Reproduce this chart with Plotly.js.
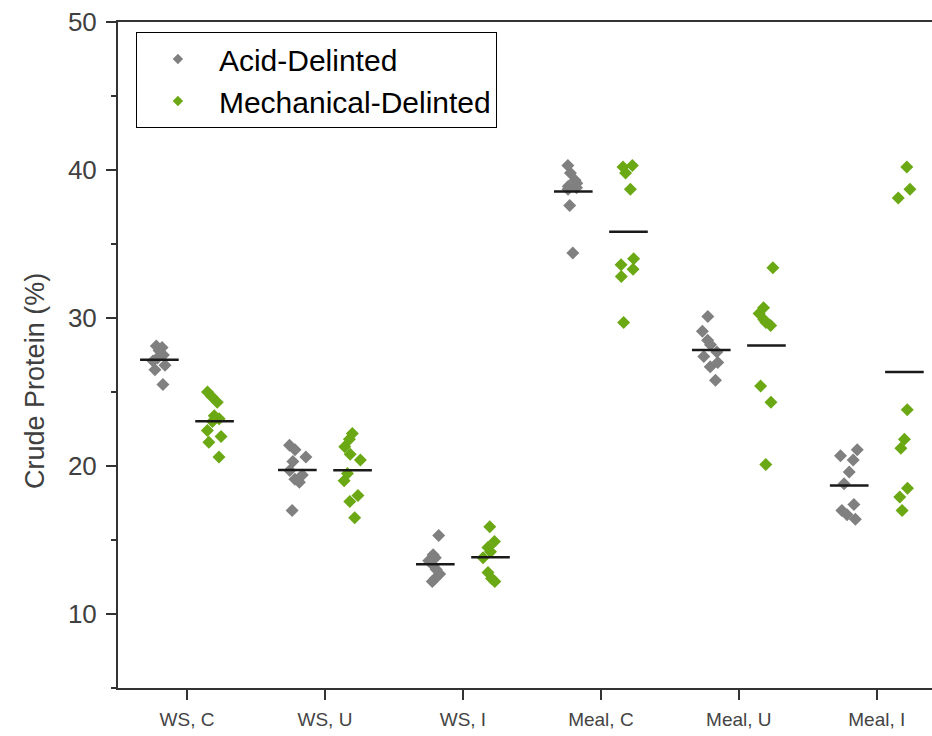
<!DOCTYPE html>
<html>
<head>
<meta charset="utf-8">
<script src="https://cdn.plot.ly/plotly-3.0.1.min.js"></script>
<style>html,body{margin:0;padding:0;background:#fff;}#chart{width:932px;height:736px;}</style>
</head>
<body>
<div id="chart"></div>
<script>
// ---- data ----
const categories = ["WS, C", "WS, U", "WS, I", "Meal, C", "Meal, U", "Meal, I"];
const seriesNames = ["Acid-Delinted", "Mechanical-Delinted"];
const yTickVals = [10, 20, 30, 40, 50];
const yTitle = "Crude Protein (%)";

const acidWSC   = [28.1, 28.0, 27.8, 27.5, 27.3, 27.1, 26.8, 26.5, 25.5];
const acidWSU   = [21.4, 21.1, 20.6, 20.3, 19.7, 19.4, 19.1, 18.9, 17.0];
const acidWSI   = [15.3, 14.0, 13.8, 13.6, 13.3, 13.0, 12.7, 12.4, 12.2];
const acidMealC = [40.3, 39.8, 39.3, 39.1, 38.9, 38.8, 38.7, 37.6, 34.4];
const acidMealU = [30.1, 29.1, 28.5, 28.2, 27.7, 27.4, 27.0, 26.7, 25.8];
const acidMealI = [21.1, 20.7, 20.4, 19.6, 18.8, 17.4, 17.0, 16.7, 16.4];

const mechWSC   = [25.0, 24.7, 24.3, 23.4, 23.2, 23.0, 22.4, 22.0, 21.6, 20.6];
const mechWSU   = [22.2, 21.8, 21.3, 20.8, 20.4, 19.5, 19.0, 18.0, 17.6, 16.5];
const mechWSI   = [15.9, 14.9, 14.5, 14.2, 13.8, 12.8, 12.4, 12.2];
const mechMealC = [40.3, 40.2, 39.8, 38.7, 34.0, 33.6, 33.3, 32.8, 29.7];
const mechMealU = [33.4, 30.7, 30.3, 29.9, 29.7, 29.5, 25.4, 24.3, 20.1];
const mechMealI = [40.2, 38.7, 38.1, 23.8, 21.8, 21.2, 18.5, 17.9, 17.0];

const acidGroups = [acidWSC, acidWSU, acidWSI, acidMealC, acidMealU, acidMealI];
const mechGroups = [mechWSC, mechWSU, mechWSI, mechMealC, mechMealU, mechMealI];

// ---- styling ----
const colors = ["#808080", "#6aa814"];
const offsets = [-0.2, 0.2];
const halfLine = 0.14;
const FONT = "Liberation Sans, Arial, sans-serif";

function pointsTrace(groups, k) {
  const xs = [], ys = [];
  groups.forEach((g, i) => g.forEach(v => { xs.push(i + offsets[k]); ys.push(v); }));
  return {
    type: "box", x: xs, y: ys, width: 0.28,
    boxpoints: "all", jitter: 0.5, pointpos: 0,
    fillcolor: "rgba(0,0,0,0)", line: {color: "rgba(0,0,0,0)", width: 0},
    whiskerwidth: 0,
    marker: {symbol: "diamond", size: 10, color: colors[k], line: {width: 0}},
    showlegend: false, hoverinfo: "y"
  };
}
function meanTrace(groups, k) {
  const xs = [], ys = [];
  groups.forEach((g, i) => {
    const m = g.reduce((a, b) => a + b, 0) / g.length;
    xs.push(i + offsets[k] - halfLine, i + offsets[k] + halfLine, null);
    ys.push(m, m, null);
  });
  return {type: "scatter", mode: "lines", x: xs, y: ys,
          line: {color: "#1a1a1a", width: 2.5}, showlegend: false, hoverinfo: "skip"};
}
function legendTrace(k) {
  return {type: "scatter", mode: "markers", x: [null], y: [null], name: seriesNames[k],
          marker: {symbol: "diamond", size: 8, color: colors[k]}};
}

const data = [
  pointsTrace(acidGroups, 0), pointsTrace(mechGroups, 1),
  meanTrace(acidGroups, 0), meanTrace(mechGroups, 1),
  legendTrace(0), legendTrace(1)
];

const layout = {
  width: 932, height: 736,
  margin: {l: 118, r: 0, t: 22, b: 48, pad: 0},
  paper_bgcolor: "#fff", plot_bgcolor: "#fff",
  boxmode: "overlay",
  showlegend: true,
  font: {family: FONT, color: "#333"},
  xaxis: {
    range: [-0.5, 5.4], tickmode: "array", tickvals: categories.map((c, i) => i), ticktext: categories,
    ticks: "outside", ticklen: 10, tickwidth: 2, tickcolor: "#333",
    showline: true, linecolor: "#333", linewidth: 2, mirror: true,
    showgrid: false, zeroline: false, ticklabelstandoff: 3,
    tickfont: {family: "Liberation Sans Narrow, " + FONT, size: 19, color: "#444"}
  },
  yaxis: {
    range: [5, 50], tickmode: "array", tickvals: yTickVals,
    ticks: "outside", ticklen: 10, tickwidth: 2, tickcolor: "#333",
    minor: {tickmode: "linear", tick0: 5, dtick: 5, ticks: "outside", ticklen: 5, tickwidth: 2, tickcolor: "#333"},
    showline: true, linecolor: "#333", linewidth: 2, mirror: false,
    showgrid: false, zeroline: false, ticklabelstandoff: 4,
    tickfont: {size: 26, color: "#404040"}
  },
  annotations: [{
    text: yTitle, textangle: -90, xref: "paper", yref: "paper",
    x: -0.102, y: 0.461, xanchor: "center", yanchor: "middle", showarrow: false,
    font: {size: 27, color: "#404040"}
  }],
  legend: {
    x: 0.022, y: 0.985, xanchor: "left", yanchor: "top",
    bgcolor: "#fff", bordercolor: "#000", borderwidth: 1,
    font: {size: 30, color: "#000"},
    tracegroupgap: 0, itemwidth: 72
  }
};

Plotly.newPlot("chart", data, layout, {displayModeBar: false, staticPlot: true});
</script>
</body>
</html>
